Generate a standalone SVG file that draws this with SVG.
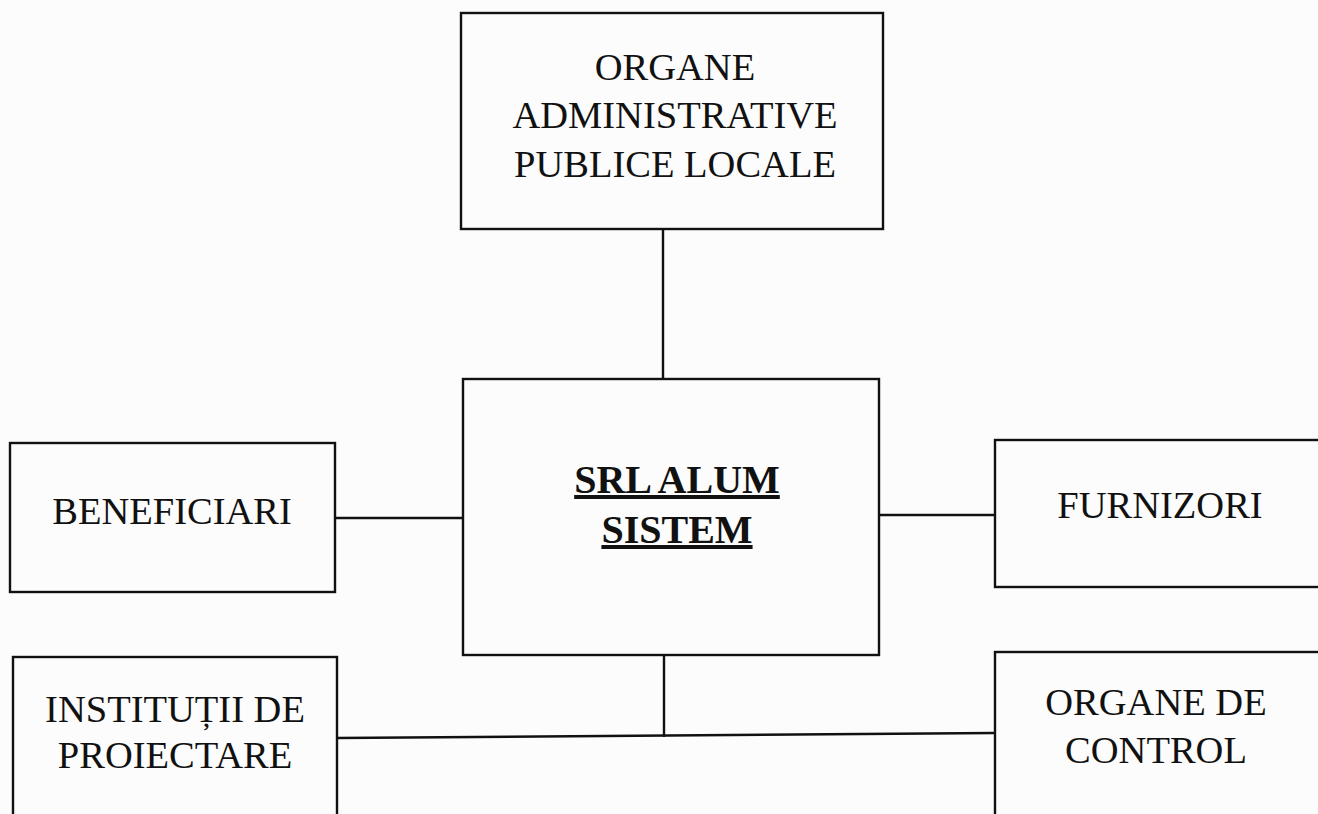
<svg xmlns="http://www.w3.org/2000/svg" width="1318" height="814" viewBox="0 0 1318 814">
<style>
.box{fill:none;stroke:#111;stroke-width:2.4}
.con{stroke:#111;stroke-width:2.4;fill:none}
.t{font-family:"Liberation Serif","Times New Roman",serif;font-size:38.5px;fill:#111;text-anchor:middle}
.b{font-weight:bold;font-size:40px;text-decoration:underline}
</style>
<rect width="1318" height="814" fill="#fcfcfc"/>
<g id="connectors">
<line class="con" x1="663" y1="229" x2="663" y2="379"/>
<line class="con" x1="335" y1="518" x2="463" y2="518"/>
<line class="con" x1="879" y1="515" x2="995" y2="515"/>
<line class="con" x1="664" y1="655" x2="664" y2="737"/>
<line class="con" x1="337" y1="738" x2="995" y2="733"/>
</g>
<g id="node-organe-admin">
<rect class="box" x="461" y="13" width="422" height="216"/>
<text class="t" x="675" y="80">ORGANE</text>
<text class="t" x="675" y="128">ADMINISTRATIVE</text>
<text class="t" x="675" y="177">PUBLICE LOCALE</text>
</g>
<g id="node-srl">
<rect class="box" x="463" y="379" width="416" height="276"/>
<text class="t b" x="677" y="493">SRL ALUM</text>
<text class="t b" x="677" y="543">SISTEM</text>
</g>
<g id="node-beneficiari">
<rect class="box" x="10" y="443" width="325" height="149"/>
<text class="t" x="172" y="524">BENEFICIARI</text>
</g>
<g id="node-furnizori">
<rect class="box" x="995" y="440" width="340" height="147"/>
<text class="t" x="1160" y="518">FURNIZORI</text>
</g>
<g id="node-institutii">
<rect class="box" x="13" y="657" width="324" height="180"/>
<text class="t" x="175" y="722">INSTITUȚII DE</text>
<text class="t" x="175" y="768">PROIECTARE</text>
</g>
<g id="node-organe-control">
<rect class="box" x="995" y="652" width="340" height="180"/>
<text class="t" x="1156" y="715">ORGANE DE</text>
<text class="t" x="1156" y="763">CONTROL</text>
</g>
</svg>
